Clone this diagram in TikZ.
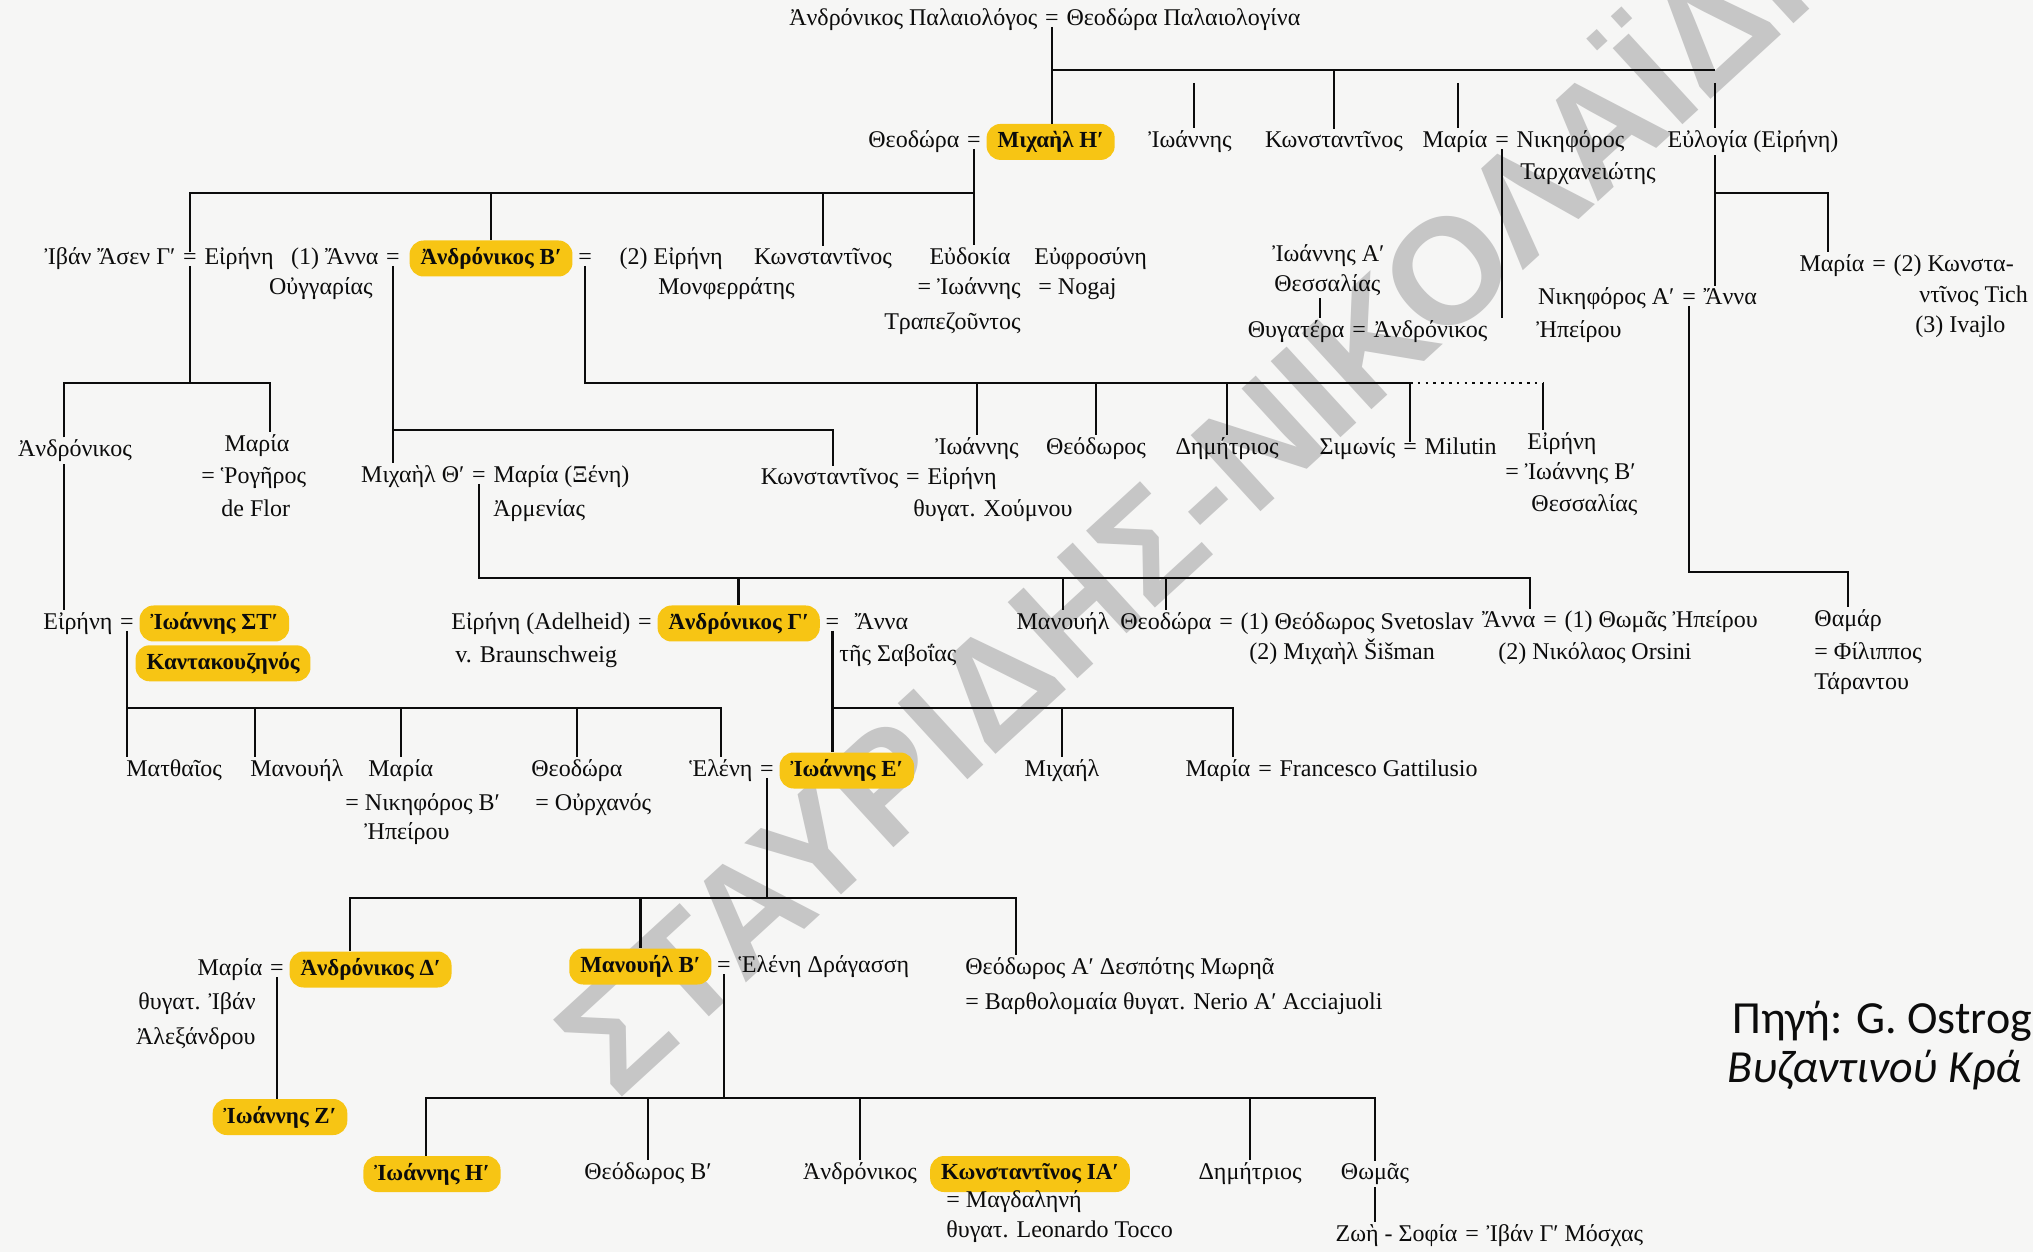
\documentclass[tikz,border=0pt]{standalone}
\usepackage{fontspec}
\setmainfont{Liberation Serif}
\newfontfamily\srcfont{Carlito}
\newfontfamily\wmfont{Liberation Sans}
\usetikzlibrary{positioning}
\definecolor{gold}{RGB}{247,197,20}
\definecolor{paper}{RGB}{246,246,245}
\definecolor{ink}{RGB}{12,12,12}
\definecolor{wmgray}{RGB}{198,198,198}
\newcommand{\nmfont}{\fontsize{12}{14}\selectfont}
\newcommand{\nmbold}{\fontsize{11.5}{14}\selectfont\bfseries}

\begin{document}
\begin{tikzpicture}[x=0.5pt,y=-0.5pt,node distance=2pt,
  pers/.style={font=\nmfont,text=ink,inner sep=1pt,anchor=mid},
  emp/.style={font=\nmbold,text=ink,fill=gold,rounded corners=7pt,inner xsep=5.5pt,inner ysep=1pt,minimum height=18pt},
  eqs/.style={font=\nmfont,text=ink,inner sep=0.5pt,anchor=mid},
  ln/.style={line width=1.3pt,ink},
  dots/.style={ln,dash pattern=on 1.3pt off 2.6pt},
  wmark/.style={font=\wmfont\bfseries\fontsize{75}{75}\selectfont,text=wmgray},
  src/.style={font=\srcfont\fontsize{23}{28}\selectfont,text=ink,inner sep=0pt}]
\path[use as bounding box,fill=paper] (0,0) rectangle (2033,1252);
\node[wmark,rotate=42.5] (wm) at (1232,452) {ΣΤΑΥΡΙΔΗΣ-ΝΙΚΟΛΑΪΔΗΣ};

\node[eqs] (e0) at (1052,21) {=};
\node[pers,base left=of e0] (andrP) {Ἀνδρόνικος Παλαιολόγος};
\node[pers,base right=of e0] (theoP) {Θεοδώρα Παλαιολογίνα};

\node[eqs] (e1) at (974,143) {=};
\node[pers,base left=of e1] (theo1) {Θεοδώρα};
\node[emp,base right=of e1] (mich8) {Μιχαὴλ Ηʹ};
\node[pers] (iwan1) at (1190,143) {Ἰωάννης};
\node[pers] (kon1) at (1334,143) {Κωνσταντῖνος};
\node[eqs] (e2) at (1502,143) {=};
\node[pers,base left=of e2] (mar1) {Μαρία};
\node[pers,base right=of e2] (nikT) {Νικηφόρος};
\node[pers,anchor=mid west] (tarx) at (1518,175) {Ταρχανειώτης};
\node[pers] (eulo) at (1753,143) {Εὐλογία (Εἰρήνη)};
\coordinate (b0) at (1052,70);
\coordinate (b0e) at (1715,70);
\coordinate (t0i) at (1194,83);
\coordinate (t0m) at (1458,83);
\coordinate (t0e) at (1715,83);
\draw[ln] (e0.south) -- (e0.south |- mich8.north);
\draw[ln] (b0) -- (b0e);
\draw[ln] (b0 -| kon1) -- (kon1.north);
\draw[ln] (t0i) -- (t0i |- iwan1.north);
\draw[ln] (t0m) -- (t0m |- mar1.north);
\draw[ln] (t0e) -- (t0e |- eulo.north);

\node[eqs] (e3) at (1879,267) {=};
\node[pers,base left=of e3] (mar2) {Μαρία};
\node[pers,base right=of e3] (konT) {(2) Κωνστα-};
\node[pers,anchor=mid west] (konT2) at (1917,298) {ντῖνος Tich};
\node[pers,anchor=mid west] (ivaj) at (1913,328) {(3) Ivajlo};
\node[eqs] (e4) at (1689,300) {=};
\node[pers,base left=of e4] (nik1) {Νικηφόρος Αʹ};
\node[pers,base right=of e4] (anna1) {Ἄννα};
\node[pers,anchor=mid west] (ipei1) at (1534,333) {Ἠπείρου};
\coordinate (b0m) at (1828,193);
\draw[ln] (b0e |- eulo.south) -- (b0e |- anna1.north);
\draw[ln] (b0e |- b0m) -- (b0m) -- (b0m |- mar2.north);
\node[pers,anchor=mid west] (tham) at (1812,622) {Θαμάρ};
\node[pers,anchor=mid west] (phil) at (1812,655) {= Φίλιππος};
\node[pers,anchor=mid west] (tara) at (1812,685) {Τάραντου};
\coordinate (b4) at (1689,572);
\draw[ln] (e4.south) -- (b4) -| (tham.north);

\node[eqs] (e5) at (190,260) {=};
\node[pers,base left=of e5] (ivan) {Ἰβάν Ἄσεν Γʹ};
\node[pers,base right=of e5] (eir1) {Εἰρήνη};
\node[eqs] (e6) at (393,260) {=};
\node[pers,base left=of e6] (anna2) {(1) Ἄννα};
\node[pers,anchor=mid east] (oug) at (375,290) {Οὐγγαρίας};
\node[emp,base right=4pt of e6] (andr2) {Ἀνδρόνικος Βʹ};
\node[eqs,base right=of andr2] (e7) {=};
\node[pers,base right=12pt of e7] (eir2) {(2) Εἰρήνη};
\node[pers,anchor=mid west] (monf) at (656,290) {Μονφερράτης};
\node[pers] (kon2) at (823,260) {Κωνσταντῖνος};
\node[pers] (eudo) at (970,260) {Εὐδοκία};
\node[pers,anchor=mid east] (iwTr) at (1023,290) {= Ἰωάννης};
\node[pers,anchor=mid east] (trap) at (1023,325) {Τραπεζοῦντος};
\node[pers,anchor=mid west] (euph) at (1032,260) {Εὐφροσύνη};
\node[pers,anchor=mid west] (noga) at (1036,290) {= Nogaj};
\node[pers,anchor=mid west] (iwA) at (1270,257) {Ἰωάννης Αʹ};
\node[pers,anchor=mid west] (thes1) at (1272,287) {Θεσσαλίας};
\node[eqs] (e8) at (1359,333) {=};
\node[pers,base left=of e8] (thyg) {Θυγατέρα};
\node[pers,base right=of e8] (andrE) {Ἀνδρόνικος};
\coordinate (b1) at (190,193);
\coordinate (t3) at (1320,310);
\draw[ln] (e1.south) -- (e1.south |- eudo.north);
\draw[ln] (e5.north) -- (b1) -- (b1 -| e1);
\draw[ln] (b1 -| andr2) -- (andr2.north);
\draw[ln] (b1 -| kon2) -- (kon2.north);
\draw[ln] (e2.south) -- (e2.south |- andrE.north);
\draw[ln] (t3 |- thes1.south) -- (t3 |- thyg.north);

\node[pers] (andr3) at (75,452) {Ἀνδρόνικος};
\node[pers] (mar3) at (257,447) {Μαρία};
\node[pers,anchor=mid west] (rog) at (199,479) {= Ῥογῆρος};
\node[pers,anchor=mid west] (flor) at (219,512) {de Flor};
\node[eqs] (e10) at (479,478) {=};
\node[pers,base left=of e10] (mich9) {Μιχαὴλ Θʹ};
\node[pers,base right=of e10] (marX) {Μαρία (Ξένη)};
\node[pers,anchor=mid west] (arm) at (491,512) {Ἀρμενίας};
\node[eqs] (e11) at (913,480) {=};
\node[pers,base left=of e11] (kon3) {Κωνσταντῖνος};
\node[pers,base right=of e11] (eir5) {Εἰρήνη};
\node[pers,anchor=mid west] (chum) at (911,512) {θυγατ. Χούμνου};
\node[pers] (iwan2) at (977,450) {Ἰωάννης};
\node[pers] (theo2) at (1096,450) {Θεόδωρος};
\node[pers] (dim1) at (1227,450) {Δημήτριος};
\node[eqs] (e9) at (1410,450) {=};
\node[pers,base left=of e9] (sim) {Σιμωνίς};
\node[pers,base right=of e9] (milu) {Milutin};
\node[pers,anchor=mid west] (eir4) at (1525,445) {Εἰρήνη};
\node[pers,anchor=mid west] (iwB) at (1503,475) {= Ἰωάννης Βʹ};
\node[pers,anchor=mid west] (thes2) at (1529,507) {Θεσσαλίας};
\coordinate (b2) at (64,383);
\coordinate (b2r) at (270,383);
\coordinate (b3) at (0,383);
\coordinate (b3s) at (1410,383);
\coordinate (b3d) at (1543,383);
\coordinate (b5) at (0,430);
\coordinate (b5r) at (833,430);
\draw[ln] (e5.south) -- (e5.south |- b2);
\draw[ln] (b2 |- andr3.north) -- (b2) -- (b2r) -- (b2r |- mar3.north);
\draw[ln] (e7.south) -- (e7.south |- b3) -- (b3s);
\draw[dots] (b3s) -- (b3d);
\draw[ln] (b3d) -- (b3d |- eir4.north);
\draw[ln] (b3s) -- (e9.north);
\draw[ln] (b3 -| iwan2) -- (iwan2.north);
\draw[ln] (b3 -| theo2) -- (theo2.north);
\draw[ln] (b3 -| dim1) -- (dim1.north);
\draw[ln] (e6.south) -- (e6.south |- mich9.north);
\draw[ln] (e6.south |- b5) -- (b5r) -- (b5r |- kon3.north);

\node[eqs] (e12) at (127,625) {=};
\node[pers,base left=of e12] (eir3) {Εἰρήνη};
\node[emp,base right=of e12] (iw6) {Ἰωάννης ΣΤʹ};
\node[emp,below=1.5pt of iw6.south west,anchor=north west,xshift=-2pt] (kant) {Καντακουζηνός};
\draw[ln] (b2 |- andr3.south) -- (b2 |- eir3.north);
\node[pers,anchor=mid west] (matt) at (124,772) {Ματθαῖος};
\node[pers,anchor=mid west] (man1) at (248,772) {Μανουήλ};
\node[pers,anchor=mid west] (mar4) at (366,772) {Μαρία};
\node[pers,anchor=mid west] (nik2) at (343,806) {= Νικηφόρος Βʹ};
\node[pers,anchor=mid west] (ipei2) at (362,835) {Ἠπείρου};
\node[pers,anchor=mid west] (theo4) at (529,772) {Θεοδώρα};
\node[pers,anchor=mid west] (ourx) at (533,806) {= Οὐρχανός};
\coordinate (b6) at (0,708);
\coordinate (t6) at (255,708);
\draw[ln] (e12.south) -- (e12.south |- matt.north);
\draw[ln] (t6) -- (t6 |- man1.north);
\draw[ln] (b6 -| mar4) -- (mar4.north);
\draw[ln] (b6 -| theo4) -- (theo4.north);

\node[eqs] (e13) at (645,625) {=};
\node[pers,base left=of e13] (adel) {Εἰρήνη (Adelheid)};
\node[emp,base right=of e13] (andr3g) {Ἀνδρόνικος Γʹ};
\node[eqs,base right=of andr3g] (e14) {=};
\node[pers,base right=6pt of e14] (anna3) {Ἄννα};
\node[pers,anchor=mid west] (brau) at (453,658) {v. Braunschweig};
\node[pers,anchor=mid west] (savo) at (837,657) {τῆς Σαβοΐας};
\node[pers] (man2) at (1063,625) {Μανουήλ};
\node[eqs] (e15) at (1226,625) {=};
\node[pers,base left=of e15] (theo5) {Θεοδώρα};
\node[pers,base right=of e15] (svet) {(1) Θεόδωρος Svetoslav};
\node[pers,anchor=mid west] (sism) at (1247,655) {(2) Μιχαὴλ Šišman};
\node[eqs] (e16) at (1550,623) {=};
\node[pers,base left=of e16] (anna4) {Ἄννα};
\node[pers,base right=of e16] (thom1) {(1) Θωμᾶς Ἠπείρου};
\node[pers,anchor=mid west] (orsi) at (1496,655) {(2) Νικόλαος Orsini};
\coordinate (b7) at (0,578);
\coordinate (b7r) at (1530,578);
\draw[ln] (e10.south) -- (e10.south |- b7) -- (b7r) -- (b7r |- anna4.north);
\draw[ln] (b7 -| andr3g) -- (andr3g.north);
\draw[ln] (b7 -| man2) -- (man2.north);
\draw[ln] (b7 -| theo5) -- (theo5.north);

\node[eqs] (e18) at (767,772) {=};
\node[pers,base left=of e18] (hel1) {Ἑλένη};
\node[emp,base right=of e18] (iw5) {Ἰωάννης Εʹ};
\node[pers] (mich2) at (1062,772) {Μιχαήλ};
\node[eqs] (e17) at (1265,772) {=};
\node[pers,base left=of e17] (mar5) {Μαρία};
\node[pers,base right=of e17] (gatt) {Francesco Gattilusio};
\coordinate (b8) at (1233,708);
\draw[ln] (e12.south |- b6) -- (b6 -| hel1) -- (hel1.north);
\draw[ln] (e14.south) -- (e14.south |- iw5.north);
\draw[ln] (e14.south |- b8) -- (b8) -- (b8 |- mar5.north);
\draw[ln] (b8 -| mich2) -- (mich2.north);

\node[eqs] (e19) at (277,971) {=};
\node[pers,base left=of e19] (mar6) {Μαρία};
\node[emp,base right=of e19] (andr4) {Ἀνδρόνικος Δʹ};
\node[pers,anchor=mid east] (ivAl) at (258,1005) {θυγατ. Ἰβάν};
\node[pers,anchor=mid east] (alex) at (258,1040) {Ἀλεξάνδρου};
\node[emp] (iw7) at (280,1117) {Ἰωάννης Ζʹ};
\draw[ln] (e19.south) -- (e19.south |- iw7.north);
\node[eqs] (e20) at (724,968) {=};
\node[emp,base left=of e20] (man3) {Μανουήλ Βʹ};
\node[pers,base right=of e20] (hel2) {Ἑλένη Δράγασση};
\node[pers,anchor=mid west] (theoA) at (963,970) {Θεόδωρος Αʹ Δεσπότης Μωρηᾶ};
\node[pers,anchor=mid west] (bart) at (963,1005) {= Βαρθολομαία θυγατ. Nerio Αʹ Acciajuoli};
\coordinate (b9) at (350,898);
\coordinate (b9r) at (1016,898);
\draw[ln] (e18.south) -- (e18.south |- b9);
\draw[ln] (b9 |- andr4.north) -- (b9) -- (b9r) -- (b9r |- theoA.north);
\draw[ln] (b9 -| man3) -- (man3.north);

\node[emp] (iw8) at (432,1174) {Ἰωάννης Ηʹ};
\node[pers] (theoB) at (648,1175) {Θεόδωρος Βʹ};
\node[pers] (andr5) at (860,1175) {Ἀνδρόνικος};
\node[emp] (kon11) at (1030,1174) {Κωνσταντῖνος ΙΑʹ};
\node[pers,anchor=mid west] (magd) at (944,1203) {= Μαγδαληνή};
\node[pers,anchor=mid west] (tocc) at (944,1233) {θυγατ. Leonardo Tocco};
\node[pers] (dim2) at (1250,1175) {Δημήτριος};
\node[pers] (thom2) at (1375,1175) {Θωμᾶς};
\node[eqs] (e21) at (1472,1237) {=};
\node[pers,base left=of e21] (zoi) {Ζωὴ - Σοφία};
\node[pers,base right=of e21] (ivM) {Ἰβάν Γʹ Μόσχας};
\coordinate (b10) at (426,1098);
\coordinate (b10r) at (1375,1098);
\draw[ln] (e20.south) -- (e20.south |- b10);
\draw[ln] (b10 |- iw8.north) -- (b10) -- (b10r) -- (b10r |- thom2.north);
\draw[ln] (b10 -| theoB) -- (theoB.north);
\draw[ln] (b10 -| andr5) -- (andr5.north);
\draw[ln] (b10 -| dim2) -- (dim2.north);
\draw[ln] (thom2.south) -- (thom2.south |- zoi.north);

\node[src,anchor=base west] (srcA) at (1732,1033) {Πηγή: G. Ostrog};
\node[src,anchor=base west,font=\srcfont\itshape\fontsize{23}{28}\selectfont] (srcB) at (1727,1082) {Βυζαντινού Κρά};
\end{tikzpicture}
\end{document}
